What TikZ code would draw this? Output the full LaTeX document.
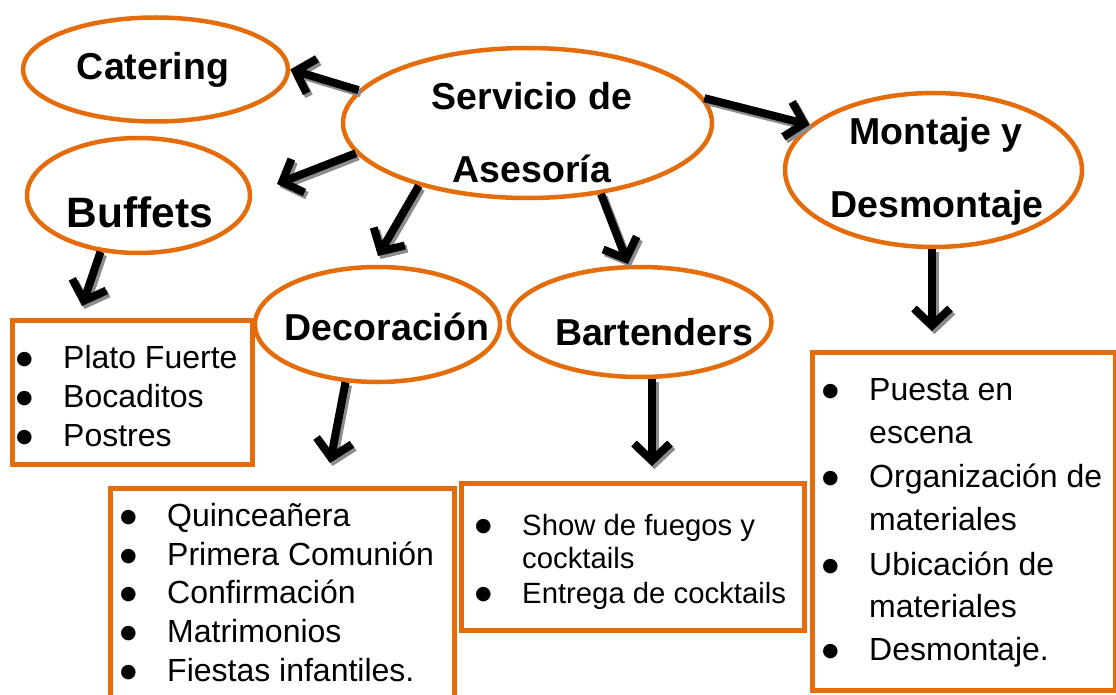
\documentclass[tikz,border=0pt]{standalone}
\usepackage{fontspec}
\setmainfont{Liberation Sans}
\newfontfamily\dejavu{DejaVu Sans}
\usetikzlibrary{arrows.meta,shapes.geometric}
\definecolor{orng}{HTML}{E46C0A}
\definecolor{shd}{HTML}{8C8C8C}
\tikzset{
  ell/.style={draw=orng, line width=4.5pt, ellipse, inner sep=0pt},
  lbox/.style={draw=orng, line width=5pt, rectangle, inner sep=0pt, anchor=north west},
  etext/.style={font=\bfseries\fontsize{37.5}{37.5}\selectfont, anchor=base, inner sep=0pt},
  item/.style={font=\fontsize{32}{36}\selectfont, anchor=base west, inner sep=0pt},
  sitem/.style={font=\fontsize{29.3}{32}\selectfont, anchor=base west, inner sep=0pt},
  arr/.style={line width=8pt, black, -{Straight Barb[length=17pt, width=36pt]}},
  arrs/.style={line width=8pt, shd, -{Straight Barb[length=17pt, width=36pt]}, transform canvas={shift={(2.5pt,-3pt)}}},
}
\newcommand{\bul}{\llap{\makebox[47pt][l]{\raisebox{4pt}{\dejavu\fontsize{19}{19}\selectfont ●}}}}
\newcommand{\conn}[2]{\draw[arrs] #1 -- #2; \draw[arr] #1 -- #2;}
\begin{document}
\begin{tikzpicture}[x=1pt, y=-1pt]
\useasboundingbox (0,0) rectangle (1116,695);
\fill[white] (0,0) rectangle (1116,695);
% ellipses
\node[ell, minimum width=265, minimum height=104] (cat) at (155.5,69.5) {};
\node[ell, minimum width=369, minimum height=150] (serv) at (527.5,123) {};
\node[ell, minimum width=297, minimum height=154] (mont) at (933.5,170) {};
\node[ell, minimum width=223, minimum height=115] (buf) at (138.5,195.5) {};
\node[ell, minimum width=245, minimum height=115] (deco) at (377.5,324.5) {};
\node[ell, minimum width=263, minimum height=110] (bart) at (640,322) {};
% ellipse texts
\node[etext] (catT) at (153,80) {Catering};
\node[etext] (servT1) at (532,110) {Servicio de};
\node[etext] (servT2) at (532,183) {Asesoría};
\node[etext] (montT1) at (936,145) {Montaje y};
\node[etext] (montT2) at (937,218) {Desmontaje};
\node[etext, font=\bfseries\fontsize{42.5}{42.5}\selectfont] (bufT) at (140,228) {Buffets};
\node[etext] (decoT) at (387,340) {Decoración};
\node[etext] (bartT) at (654,345) {Bartenders};
% boxes
\node[lbox, minimum width=240, minimum height=144] (bufL) at (10,318) {};
\node[lbox, minimum width=344, minimum height=220] (decoL) at (108,486) {};
\node[lbox, minimum width=343, minimum height=147] (bartL) at (459,481) {};
\node[lbox, minimum width=303, minimum height=338] (montL) at (810,350) {};
% list texts
\node[item] (b1) at (63,368) {\bul Plato Fuerte};
\node[item] (b2) at (63,407) {\bul Bocaditos};
\node[item] (b3) at (63,446) {\bul Postres};
\node[item] (d1) at (167,526) {\bul Quinceañera};
\node[item] (d2) at (167,565) {\bul Primera Comunión};
\node[item] (d3) at (167,603) {\bul Confirmación};
\node[item] (d4) at (167,642) {\bul Matrimonios};
\node[item] (d5) at (167,681) {\bul Fiestas infantiles.};
\node[sitem] (t1) at (522,535) {\bul Show de fuegos y};
\node[sitem] (t2) at (522,568) {cocktails};
\node[sitem] (t3) at (522,603) {\bul Entrega de cocktails};
\node[item] (m1) at (869,400) {\bul Puesta en};
\node[item] (m2) at (869,443) {escena};
\node[item] (m3) at (869,487) {\bul Organización de};
\node[item] (m4) at (869,530) {materiales};
\node[item] (m5) at (869,575) {\bul Ubicación de};
\node[item] (m6) at (869,617) {materiales};
\node[item] (m7) at (869,660) {\bul Desmontaje.};
% free arrow ends
\coordinate (e2) at (277,184);
\coordinate (e3) at (378,256);
\coordinate (e4) at (628,264);
\coordinate (e6) at (82,306);
\coordinate (e7) at (330,463);
\coordinate (e8) at (652,466);
\coordinate (e9) at (932,331);
% connectors
\conn{(serv.169)}{(cat.east)}
\conn{(serv.190)}{(e2)}
\conn{(serv.210)}{(e3)}
\conn{(serv.316)}{(e4)}
\conn{(serv.8)}{(mont.160)}
\conn{(buf.236)}{(e6)}
\conn{(deco.241)}{(e7)}
\conn{(bart.south -| e8)}{(e8)}
\conn{(mont.south -| e9)}{(e9)}
\end{tikzpicture}
\end{document}
